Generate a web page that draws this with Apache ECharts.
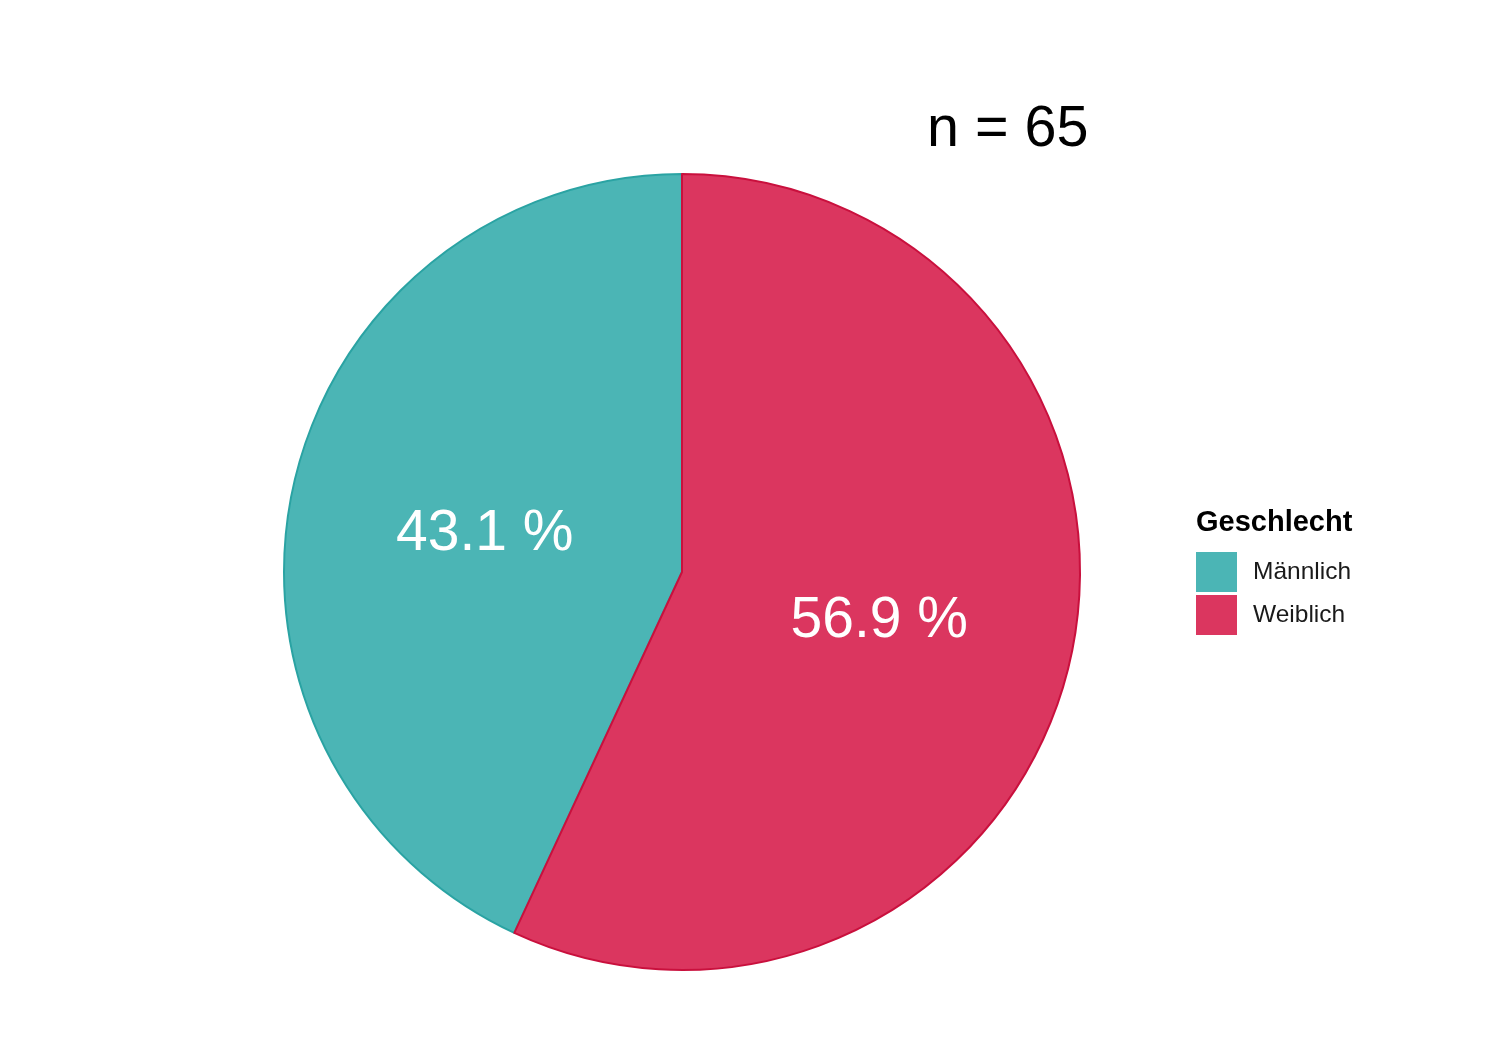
<!DOCTYPE html>
<html>
<head>
<meta charset="utf-8">
<script src="https://cdn.jsdelivr.net/npm/echarts@6/dist/echarts.min.js"></script>
<style>
html,body{margin:0;padding:0;background:#fff;}
#chart{width:1494px;height:1053px;}
</style>
</head>
<body>
<div id="chart"></div>
<script>
const categories = ['Männlich', 'Weiblich'];
const counts = [28, 37];
const legendOrder = ['Männlich', 'Weiblich'];
const fillColors = {'Männlich': '#4BB5B5', 'Weiblich': '#DB365F'};
const borderColors = {'Männlich': '#2AA3A3', 'Weiblich': '#C9103D'};
const legendTitle = 'Geschlecht';
const nLabel = 'n = 65';
const FONT = '"Liberation Sans", Arial, sans-serif';

const chart = echarts.init(document.getElementById('chart'));
chart.setOption({
  backgroundColor: '#ffffff',
  animation: false,
  legend: {
    orient: 'vertical',
    left: 1196,
    top: 552,
    padding: 0,
    itemWidth: 41,
    itemHeight: 40,
    itemGap: 3,
    icon: 'rect',
    data: legendOrder,
    itemStyle: {borderWidth: 0},
    textStyle: {fontFamily: FONT, fontSize: 24.5, color: '#1a1a1a', padding: [3, 0, 0, 11]}
  },
  graphic: [
    {type: 'text', left: 1196, top: 508, style: {text: legendTitle, fontFamily: FONT, fontSize: 29, fontWeight: 'bold', fill: '#000'}},
    {type: 'text', left: 927, top: 101, style: {text: nLabel, fontFamily: FONT, fontSize: 57.5, fill: '#000'}}
  ],
  series: [{
    type: 'pie',
    center: [682, 572],
    radius: 398,
    startAngle: 90,
    clockwise: false,
    percentPrecision: 1,
    avoidLabelOverlap: false,
    label: {
      show: true,
      position: 'inside',
      formatter: '{d} %',
      color: '#fff',
      fontSize: 57,
      fontFamily: FONT
    },
    labelLayout: {dy: 6},
    labelLine: {show: false},
    emphasis: {disabled: true},
    data: categories.map((c, i) => ({
      name: c,
      value: counts[i],
      itemStyle: {color: fillColors[c], borderColor: borderColors[c], borderWidth: 2}
    }))
  }]
});
</script>
</body>
</html>
